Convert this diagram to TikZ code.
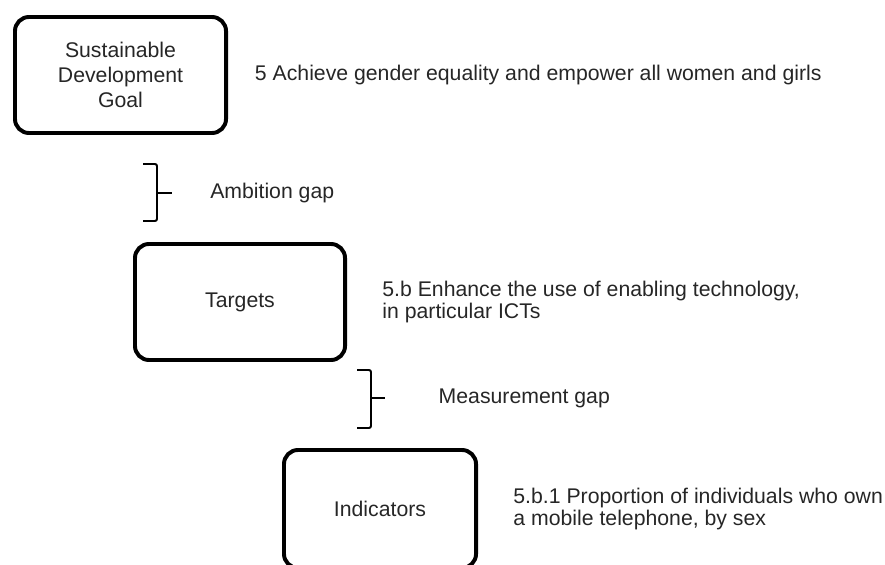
\documentclass[tikz,border=0pt]{standalone}
\usepackage{fontspec}
\setmainfont{Liberation Sans}
\usetikzlibrary{positioning}

\begin{document}
\begin{tikzpicture}[x=0.025cm, y=-0.025cm,
  levelbox/.style={draw, line width=2.8pt, rounded corners=10pt, minimum height=2.9cm, align=center, text=black!85, font=\fontsize{15.1}{18}\selectfont},
  note/.style={inner sep=0pt, align=left, text=black!85, font=\fontsize{15.1}{15.65}\selectfont},
  gapbrace/.style={line width=1.4pt, rounded corners=1.5pt}]

  \useasboundingbox (0,0) rectangle (885,564);

  % Levels
  \node[levelbox, minimum width=5.275cm] (goal) at (120.5,75) {Sustainable\\Development\\Goal};
  \node[levelbox, minimum width=5.25cm] (targets) at (240,302) {Targets};
  \node[levelbox, minimum width=4.8cm, minimum height=2.95cm] (indicators) at (380,509) {Indicators};

  % Descriptions
  \node[note, right=19pt of goal] (goaltext) {5 Achieve gender equality and empower all women and girls};
  \node[note, right=25pt of targets] (targettext) {5.b Enhance the use of enabling technology,\\in particular ICTs};
  \node[note, right=25pt of indicators] (indictext) {5.b.1 Proportion of individuals who own\\a mobile telephone, by sex};

  % Gaps
  \coordinate (ambtip) at (172,193);
  \draw[gapbrace] (143,164) -- (157,164) -- (157,221) -- (143,221);
  \draw[gapbrace] (157,193) -- (ambtip);
  \node[note, right=27pt of ambtip] (ambition) {Ambition gap};

  \coordinate (meastip) at (385,398);
  \draw[gapbrace] (357,370) -- (371,370) -- (371,428) -- (357,428);
  \draw[gapbrace] (371,398) -- (meastip);
  \node[note, right=38pt of meastip] (measure) {Measurement gap};
\end{tikzpicture}
\end{document}
